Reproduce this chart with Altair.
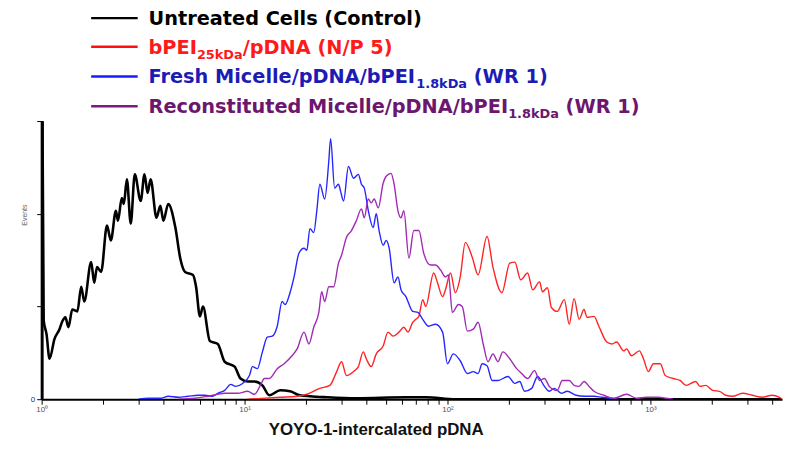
import altair as alt
import pandas as pd

# ---------------- data (log10 fluorescence intensity, events) ----------------
ctrl_log = [0.000, 0.010, 0.024, 0.039, 0.063, 0.088, 0.102, 0.117, 0.132, 0.151, 0.176, 0.195, 0.210,
            0.244, 0.259, 0.273, 0.293, 0.322, 0.341, 0.366, 0.376, 0.395, 0.405, 0.420, 0.439, 0.459,
            0.488, 0.507, 0.522, 0.537, 0.566, 0.585, 0.600, 0.624, 0.659, 0.683, 0.707, 0.746, 0.761,
            0.780, 0.795, 0.829, 0.868, 0.902, 0.951, 0.980, 1.015, 1.049, 1.088, 1.122, 1.176, 1.224,
            1.273, 1.322, 1.405, 1.551, 1.795, 1.893, 2.039, 3.649]
ctrl_cnt = [420, 80, 66, 41, 61, 71, 79, 83, 73, 91, 89, 114, 99,
            139, 118, 134, 129, 176, 161, 191, 181, 204, 198, 223, 178, 228,
            201, 228, 209, 223, 184, 196, 181, 198, 174, 143, 129, 126, 114,
            84, 94, 59, 56, 38, 33, 21, 18, 18, 14, 4, 9, 8,
            4, 3, 2, 1, 2, 2, 0, 0]

pei_log = [1.015, 1.176, 1.259, 1.307, 1.371, 1.420, 1.454, 1.478, 1.502, 1.537, 1.561, 1.585, 1.600,
           1.624, 1.649, 1.683, 1.707, 1.732, 1.761, 1.785, 1.805, 1.829, 1.844, 1.859, 1.878, 1.893,
           1.932, 1.951, 1.976, 1.990, 2.015, 2.039, 2.063, 2.088, 2.122, 2.151, 2.195, 2.224, 2.268,
           2.307, 2.332, 2.361, 2.395, 2.420, 2.454, 2.468, 2.493, 2.512, 2.541, 2.576, 2.600, 2.624,
           2.649, 2.673, 2.688, 2.722, 2.746, 2.785, 2.810, 2.834, 2.868, 2.883, 2.907, 2.946, 2.966,
           2.990, 3.015, 3.049, 3.073, 3.112, 3.146, 3.176, 3.224, 3.244, 3.273, 3.307, 3.341, 3.371,
           3.405, 3.454, 3.502, 3.551, 3.600, 3.634, 3.649]
pei_cnt = [0, 2, 3, 5, 11, 14, 28, 38, 24, 28, 33, 48, 41,
           33, 46, 54, 68, 64, 68, 73, 68, 78, 81, 84, 101, 94,
           128, 118, 104, 111, 128, 108, 124, 159, 144, 126, 165, 134, 108,
           138, 139, 121, 128, 111, 119, 109, 113, 93, 89, 101, 76, 102,
           81, 91, 83, 84, 74, 58, 56, 58, 49, 51, 44, 49, 41,
           28, 36, 36, 24, 21, 19, 14, 18, 13, 14, 9, 8, 4,
           3, 6, 4, 2, 4, 2, 0]

fresh_log = [0.478, 0.527, 0.590, 0.624, 0.673, 0.722, 0.771, 0.805, 0.844, 0.868, 0.902, 0.932, 0.956,
             0.990, 1.024, 1.039, 1.063, 1.088, 1.112, 1.137, 1.161, 1.185, 1.200, 1.224, 1.244, 1.268,
             1.293, 1.307, 1.322, 1.341, 1.356, 1.371, 1.395, 1.415, 1.424, 1.444, 1.463, 1.473, 1.488,
             1.512, 1.537, 1.561, 1.576, 1.590, 1.610, 1.634, 1.649, 1.663, 1.683, 1.698, 1.712, 1.737,
             1.756, 1.771, 1.795, 1.829, 1.854, 1.878, 1.907, 1.941, 1.976, 2.000, 2.029, 2.063, 2.098,
             2.127, 2.151, 2.171, 2.195, 2.220, 2.249, 2.298, 2.332, 2.356, 2.380, 2.415, 2.444, 2.478,
             2.502, 2.527, 2.561, 2.590, 2.634, 2.673, 2.722, 2.761, 2.805, 2.844]
fresh_cnt = [0, 1, 1, 3, 2, 3, 4, 4, 3, 6, 9, 15, 13,
             16, 24, 33, 31, 48, 63, 64, 74, 99, 96, 108, 124, 148,
             153, 151, 173, 169, 191, 218, 203, 241, 264, 214, 218, 211, 201,
             236, 224, 228, 218, 214, 191, 174, 188, 171, 156, 161, 154, 118,
             124, 111, 104, 89, 88, 81, 74, 76, 68, 36, 46, 39, 26,
             28, 26, 36, 34, 19, 19, 23, 16, 18, 8, 11, 23, 13,
             8, 11, 6, 8, 4, 3, 3, 2, 1, 0]

recon_log = [0.673, 0.756, 0.820, 0.902, 0.966, 1.015, 1.049, 1.078, 1.098, 1.122, 1.161, 1.195, 1.234,
             1.259, 1.293, 1.317, 1.341, 1.366, 1.380, 1.395, 1.415, 1.439, 1.463, 1.478, 1.502, 1.527,
             1.551, 1.576, 1.590, 1.610, 1.624, 1.639, 1.659, 1.683, 1.698, 1.722, 1.737, 1.756, 1.771,
             1.785, 1.810, 1.834, 1.859, 1.883, 1.917, 1.941, 1.966, 1.990, 2.005, 2.024, 2.054, 2.073,
             2.098, 2.127, 2.151, 2.176, 2.200, 2.224, 2.249, 2.273, 2.307, 2.341, 2.366, 2.395, 2.429,
             2.454, 2.478, 2.502, 2.541, 2.566, 2.600, 2.624, 2.649, 2.673, 2.698, 2.722, 2.771, 2.820,
             2.883, 2.932, 2.980, 3.039, 3.078, 3.112]
recon_cnt = [0, 1, 3, 6, 6, 8, 5, 14, 21, 21, 31, 36, 44,
             51, 68, 56, 73, 88, 109, 99, 114, 114, 138, 146, 164, 171,
             181, 193, 184, 203, 199, 203, 194, 219, 226, 229, 218, 191, 184,
             191, 143, 171, 171, 148, 136, 136, 131, 124, 126, 88, 96, 94,
             69, 71, 78, 56, 38, 46, 38, 48, 41, 31, 26, 21, 29,
             19, 21, 13, 9, 19, 19, 14, 13, 18, 13, 8, 4, 1,
             5, 1, 2, 2, 1, 0]

series_names = ["Untreated Cells (Control)", "bPEI25kDa/pDNA (N/P 5)",
                "Fresh Micelle/pDNA/bPEI1.8kDa (WR 1)", "Reconstituted Micelle/pDNA/bPEI1.8kDa (WR 1)"]
series_logs = [ctrl_log, pei_log, fresh_log, recon_log]
series_cnts = [ctrl_cnt, pei_cnt, fresh_cnt, recon_cnt]
line_colors = ["#000000", "#ff2424", "#2626ff", "#a02ab4"]
line_widths = [2.6, 1.4, 1.4, 1.4]

x_ticks = [k * 10 ** d for d in range(4) for k in range(1, 10) if k * 10 ** d < 4400]
y_ticks = [0, 94, 188, 282]

rows = []
for name, lg, ct in zip(series_names, series_logs, series_cnts):
    for i, (a, b) in enumerate(zip(lg, ct)):
        rows.append({"series": name, "idx": i, "intensity": 10 ** a, "events": b})
df = pd.DataFrame(rows)

x_scale = alt.Scale(type="log", domain=[1, 10 ** 3.649], nice=False)
y_scale = alt.Scale(domain=[0, 282], nice=False)

x_axis = alt.Axis(values=x_ticks, title=None, grid=False,
                  labelExpr="datum.value==1?'10⁰':datum.value==10?'10¹':datum.value==100?'10²':datum.value==1000?'10³':''",
                  labelFontSize=8, labelColor="#555555", labelFont="Liberation Sans", labelPadding=1,
                  labelFlush=False, labelOverlap=False,
                  domainColor="#000000", domainWidth=2, tickColor="#000000", tickWidth=1, tickSize=5)
y_axis = alt.Axis(values=y_ticks, title=None, grid=False, labelExpr="datum.value==0?'0':''",
                  labelFontSize=8, labelColor="#333333", labelFont="Liberation Sans", labelPadding=2,
                  domainColor="#000000", domainWidth=3, tickColor="#000000", tickWidth=1, tickSize=5)

layers = []
for i, name in enumerate(series_names):
    layers.append(
        alt.Chart(df).transform_filter(alt.datum.series == name)
        .mark_line(clip=True, color=line_colors[i], strokeWidth=line_widths[i], strokeJoin="round",
                   interpolate="monotone")
        .encode(
            x=alt.X("intensity:Q", scale=x_scale, axis=x_axis),
            y=alt.Y("events:Q", scale=y_scale, axis=y_axis),
            order="idx:Q",
        )
    )

# ---------------- manual legend with subscripts ----------------
W = {' ': .348, '(': .457, ')': .457, '/': .365, '.': .380, '1': .696, '2': .696, '5': .696, '8': .696,
     'A': .774, 'C': .734, 'D': .830, 'E': .683, 'F': .683, 'I': .372, 'M': .995, 'N': .837, 'P': .733,
     'R': .770, 'U': .812, 'W': 1.103, 'a': .675, 'b': .716, 'c': .593, 'd': .716, 'e': .678, 'h': .712,
     'i': .343, 'k': .665, 'l': .343, 'n': .712, 'o': .687, 'p': .716, 'r': .493, 's': .595, 't': .478,
     'u': .712}


def tw(s, size):
    return sum(W.get(c, .65) for c in s) * size


MAIN, SUB = 19.5, 13
legend_rows = [
    ("#000000", "#000000", [("Untreated Cells (Control)", False)]),
    ("#ff1a1a", "#ff1010", [("bPEI", False), ("25kDa", True), ("/pDNA (N/P 5)", False)]),
    ("#1c1cb4", "#1a1aff", [("Fresh Micelle/pDNA/bPEI", False), ("1.8kDa", True), (" (WR 1)", False)]),
    ("#6c166e", "#7a1a80", [("Reconstituted Micelle/pDNA/bPEI", False), ("1.8kDa", True), (" (WR 1)", False)]),
]
row_center = [-104, -75, -45, -15]
dummy = pd.DataFrame({"a": [0]})
for r, (tcol, lcol, pieces) in enumerate(legend_rows):
    yc = row_center[r]
    layers.append(alt.Chart(dummy).mark_rule(color=lcol, strokeWidth=2.5).encode(
        x=alt.value(50), x2=alt.value(97), y=alt.value(yc)))
    xpos = 108
    for text, sub in pieces:
        size = SUB if sub else MAIN
        lead = len(text) - len(text.lstrip(" "))
        xpos += tw(" " * lead, size)
        shown = text.lstrip(" ")
        ybase = yc + 7 + (5 if sub else 0)
        layers.append(alt.Chart(pd.DataFrame({"t": [shown]})).mark_text(
            align="left", baseline="alphabetic", font="DejaVu Sans", fontWeight="bold",
            fontSize=size, color=tcol).encode(x=alt.value(xpos), y=alt.value(ybase), text="t:N"))
        xpos += tw(shown, size)

# axis titles
layers.append(alt.Chart(pd.DataFrame({"t": ["YOYO-1-intercalated pDNA"]})).mark_text(
    align="center", baseline="middle", font="Liberation Sans", fontWeight="bold", fontSize=17,
    color="#111111").encode(x=alt.value(338), y=alt.value(312), text="t:N"))
layers.append(alt.Chart(pd.DataFrame({"t": ["Events"]})).mark_text(
    align="center", baseline="middle", font="Liberation Sans", fontSize=7, angle=270,
    color="#666666").encode(x=alt.value(-17), y=alt.value(95), text="t:N"))

chart = alt.layer(*layers).properties(
    width=748, height=281,
    autosize=alt.AutoSizeParams(type="none"),
    padding={"left": 34, "top": 112, "right": 6, "bottom": 40},
    background="white",
).configure_view(stroke=None)

chart.save("out.html", embed_options={"renderer": "svg", "actions": False})
